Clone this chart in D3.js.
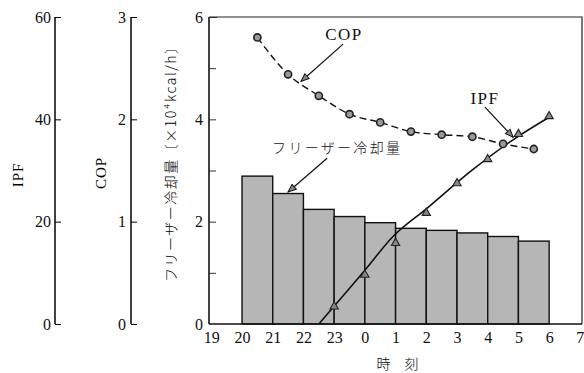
<!DOCTYPE html>
<html><head><meta charset="utf-8">
<script src="https://cdn.jsdelivr.net/npm/d3@7"></script>
<style>body{margin:0;background:#fff}svg{display:block}</style>
</head><body><svg id="c" width="584" height="373"></svg>
<script>
// ---- data ----
const hourLabels = ["19","20","21","22","23","0","1","2","3","4","5","6","7"];
// freezer cooling per hour interval starting at 20h ... 5h  (×10^4 kcal/h)
const coolingStart = ["20","21","22","23","0","1","2","3","4","5"];
const cooling = [2.89,2.55,2.24,2.10,1.98,1.87,1.83,1.78,1.71,1.62];
// COP measured at the middle of each interval
const cop = [2.80,2.44,2.23,2.05,1.97,1.88,1.85,1.83,1.76,1.71];
// IPF measured points at 23h ... 6h
const ipfHours = ["23","0","1","2","3","4","5","6"];
const ipf = [3.4,9.6,15.8,21.7,27.5,32.2,37.1,40.6];
// IPF fitted curve (hours after 19:00, IPF)
const ipfFitT = [3.5,5.0,5.9,7.0,8.5,9.8,11.0];
const ipfFit  = [0,10.5,17.0,22.5,30.1,35.9,40.4];
const mainTicks = [0,2,4,6], mainMinor=[1,3,5];
const copTicks = [0,1,2,3], ipfTicks=[0,20,40,60];

const SERIF = "'Liberation Serif','DejaVu Serif',serif";
const CJK = "'Noto Sans CJK JP',sans-serif";
const svg = d3.select("#c");
const idx = h => hourLabels.indexOf(h);
const x = d3.scaleLinear().domain([-0.075,12.07]).range([209,582]);
const y = d3.scaleLinear().domain([0,6]).range([324,17]);
const yCop = d3.scaleLinear().domain([0,3]).range([324,17]);
const yIpf = d3.scaleLinear().domain([0,60]).range([324,17]);

const defs = svg.append("defs");
defs.append("marker").attr("id","ah").attr("viewBox","0 0 10 10").attr("refX",10).attr("refY",5)
  .attr("markerWidth",10).attr("markerHeight",8).attr("orient","auto").attr("markerUnits","userSpaceOnUse")
  .append("path").attr("d","M0,1 L10,5 L0,9 Z").attr("fill","#888").attr("stroke","#111").attr("stroke-width",1.2);

// bars
svg.append("g").selectAll("rect").data(cooling).join("rect")
  .attr("x",(d,i)=>x(idx(coolingStart[i])))
  .attr("width",(d,i)=>x(idx(coolingStart[i])+1)-x(idx(coolingStart[i])))
  .attr("y",d=>y(d)).attr("height",d=>y(0)-y(d))
  .attr("fill","#b6b6b6").attr("stroke","#111").attr("stroke-width",1.4);

// frame
svg.append("path").attr("d",`M${x.range()[0]},${y(6)}H${x.range()[1]}V${y(0)}`)
  .attr("fill","none").attr("stroke","#222").attr("stroke-width",1.2);

// x axis
const xa = svg.append("g").attr("transform",`translate(0,${y(0)})`)
  .call(d3.axisBottom(x).tickValues(d3.range(hourLabels.length)).tickFormat(i=>hourLabels[i]).tickSize(0).tickPadding(8));
xa.select(".domain").attr("stroke","#111").attr("stroke-width",1.6).attr("d",`M${x.range()[0]},0H${x.range()[1]}`);
xa.selectAll("text").style("font-size","16px").style("font-family",SERIF).attr("fill","#111");

// main y axis
const ya = svg.append("g").attr("transform",`translate(${x.range()[0]},0)`)
  .call(d3.axisRight(y).tickValues(mainTicks.concat(mainMinor)).tickSize(7).tickFormat(d=>mainTicks.includes(d)?d:""));
ya.select(".domain").attr("stroke","#111").attr("stroke-width",1.6).attr("d",`M0,${y(0)}V${y(6)}`);
ya.selectAll(".tick line").attr("stroke","#333");
ya.selectAll("text").attr("x",-6).attr("text-anchor","end").style("font-size","16px").style("font-family",SERIF).attr("fill","#111");
ya.selectAll(".tick").filter(d=>d===0||d===6).select("line").attr("x2",d=>d===6?8:0);

// COP axis
const ca = svg.append("g").attr("transform","translate(131,0)")
  .call(d3.axisRight(yCop).tickValues(copTicks).tickSize(6).tickFormat(d3.format("d")));
ca.select(".domain").attr("stroke","#111").attr("stroke-width",1.6).attr("d",`M0,${yCop(0)}V${yCop(3)}`);
ca.selectAll("text").attr("x",-5).attr("text-anchor","end").style("font-size","16px").style("font-family",SERIF).attr("fill","#111");
// IPF axis
const ia = svg.append("g").attr("transform","translate(55,0)")
  .call(d3.axisRight(yIpf).tickValues(ipfTicks).tickSize(6).tickFormat(d3.format("d")));
ia.select(".domain").attr("stroke","#111").attr("stroke-width",1.6).attr("d",`M0,${yIpf(0)}V${yIpf(60)}`);
ia.selectAll("text").attr("x",-4).attr("text-anchor","end").style("font-size","16px").style("font-family",SERIF).attr("fill","#111");

// axis titles
svg.append("text").attr("transform","translate(23,175) rotate(-90)").attr("text-anchor","middle")
  .style("font-size","15px").style("font-family",SERIF).attr("letter-spacing",1).text("IPF");
svg.append("text").attr("transform","translate(106,173) rotate(-90)").attr("text-anchor","middle")
  .style("font-size","15px").style("font-family",SERIF).attr("letter-spacing",1).text("COP");
svg.append("text").attr("transform","translate(176,161) rotate(-90)").attr("text-anchor","middle")
  .attr("textLength",242).attr("lengthAdjust","spacing")
  .style("font-size","14px").style("font-family",CJK).style("font-weight",300)
  .text("フリーザー冷却量〔×10⁴kcal/h〕");
svg.append("text").attr("x",(x.range()[0]+x.range()[1])/2+2).attr("y",369).attr("text-anchor","middle")
  .style("font-size","14px").style("font-family",CJK).style("font-weight",300).text("時　刻");

// IPF fitted line
svg.append("path").datum(ipfFit).attr("fill","none").attr("stroke","#111").attr("stroke-width",1.6)
  .attr("d",d3.line().x((d,i)=>x(ipfFitT[i])).y(d=>yIpf(d)).curve(d3.curveMonotoneX));
// COP dashed curve
svg.append("path").datum(cop).attr("fill","none").attr("stroke","#111").attr("stroke-width",1.4).attr("stroke-dasharray","7,4")
  .attr("d",d3.line().x((d,i)=>x(idx(coolingStart[i])+0.5)).y(d=>yCop(d)).curve(d3.curveMonotoneX));
// COP markers
svg.append("g").selectAll("circle").data(cop).join("circle")
  .attr("cx",(d,i)=>x(idx(coolingStart[i])+0.5)).attr("cy",d=>yCop(d)).attr("r",3.6)
  .attr("fill","#9a9a9a").attr("stroke","#222").attr("stroke-width",1.6);
// IPF markers
svg.append("g").selectAll("path").data(ipf).join("path")
  .attr("transform",(d,i)=>`translate(${x(idx(ipfHours[i]))},${yIpf(d)})`)
  .attr("d",d3.symbol(d3.symbolTriangle,30)).attr("fill","#8a8a8a").attr("stroke","#222").attr("stroke-width",1.1);

// annotations
function ann(label, tx, ty, x1, y1, x2, y2, cjk){
  const t = svg.append("text").attr("x",x(tx)).attr("y",y(ty)).attr("fill","#111").text(label);
  if(cjk){ t.attr("letter-spacing",2.3).style("font-size","14px").style("font-family",CJK).style("font-weight",300); }
  else { t.attr("text-anchor","middle").attr("letter-spacing",1.5).style("font-size","17px").style("font-family",SERIF); }
  svg.append("line").attr("x1",x(x1)).attr("y1",y(y1)).attr("x2",x(x2)).attr("y2",y(y2))
    .attr("stroke","#111").attr("stroke-width",1.2).attr("marker-end","url(#ah)");
}
ann("COP",4.32,5.55,4.29,5.47,2.92,4.74,false);
ann("IPF",8.91,4.30,8.91,4.24,9.83,3.65,false);
ann("フリーザー冷却量",1.98,3.34,3.77,3.24,2.5,2.58,true);
</script></body></html>
